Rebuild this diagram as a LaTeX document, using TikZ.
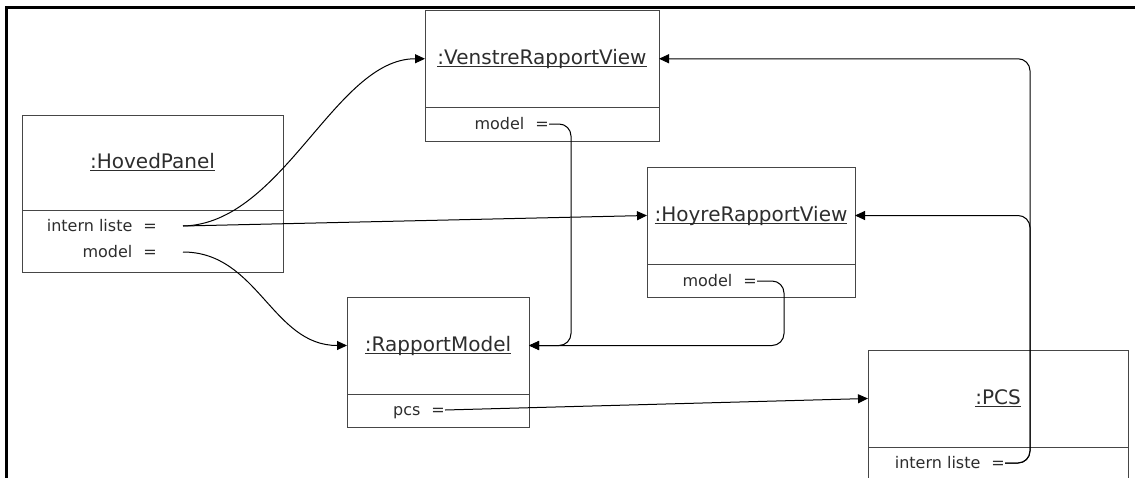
\documentclass[tikz,border=0pt]{standalone}
\usepackage{fontspec}
\setmainfont{DejaVu Sans}
\usepackage{tikz}
\usetikzlibrary{arrows.meta,positioning}
\definecolor{boxGray}{RGB}{70,70,70}
\definecolor{txtGray}{RGB}{45,45,45}
\newcommand{\objtitle}[1]{\setbox0=\hbox{#1}\rlap{\rule[-2.5pt]{\wd0}{0.7pt}}\box0}

\begin{document}
\begin{tikzpicture}[x=1pt, y=-1pt,
    objtop/.style={draw=boxGray, line width=0.9pt, outer sep=0pt, inner sep=0pt,
      text height=15pt, text depth=4pt, text=txtGray, font=\fontsize{20}{24}\selectfont},
    objattr/.style={draw=boxGray, line width=0.9pt, outer sep=0pt, inner sep=0pt},
    attr/.style={anchor=base east, inner sep=0pt, text=txtGray, font=\fontsize{16}{19}\selectfont},
    link/.style={line width=1pt, rounded corners=12pt, -{Triangle[length=10pt,width=9pt]}}]
  \useasboundingbox (0,0) rectangle (1135,477);
  \draw[line width=3pt] (6,480) -- (6,7.5) -- (1140,7.5);

  % objects
  \node[objtop, minimum width=261pt, minimum height=95pt] (hoved) at (152.5,162.5) {\objtitle{:HovedPanel}};
  \node[objattr, minimum width=261pt, minimum height=62pt, below=0pt of hoved] (hovedattr) {};
  \node[objtop, minimum width=234pt, minimum height=96.5pt] (venstre) at (542,58.75) {\objtitle{:VenstreRapportView}};
  \node[objattr, minimum width=234pt, minimum height=34pt, below=0pt of venstre] (venstreattr) {};
  \node[objtop, minimum width=208pt, minimum height=97pt] (hoyre) at (751,215.5) {\objtitle{:HoyreRapportView}};
  \node[objattr, minimum width=208pt, minimum height=33pt, below=0pt of hoyre] (hoyreattr) {};
  \node[objtop, minimum width=182pt, minimum height=97pt] (rapport) at (438,345.5) {\objtitle{:RapportModel}};
  \node[objattr, minimum width=182pt, minimum height=33pt, below=0pt of rapport] (rapportattr) {};
  \node[objtop, minimum width=260pt, minimum height=97pt] (pcs) at (998,398.5) {\objtitle{:PCS}};
  \node[objattr, minimum width=260pt, minimum height=40pt, below=0pt of pcs] (pcsattr) {};

  % attributes
  \node[attr] (hovedlisteL) at (157,231) {intern liste\hspace{11pt}=};
  \node[attr] (hovedmodelL) at (157,257) {model\hspace{11pt}=};
  \node[attr] (venstremodelL) at (549,129) {model\hspace{11pt}=};
  \node[attr] (hoyremodelL) at (757,286) {model\hspace{11pt}=};
  \node[attr] (rapportpcsL) at (445,415) {pcs\hspace{11pt}=};
  \node[attr] (pcslisteL) at (1005,468) {intern liste\hspace{11pt}=};
  \coordinate (hovedliste) at (183,226);
  \coordinate (hovedmodel) at (183,252);
  \coordinate (venstremodel) at (549,124);
  \coordinate (hoyremodel) at (757,281);
  \coordinate (rapportpcs) at (445,410);
  \coordinate (pcsliste) at (1005,463);

  % references
  \draw[link] (hovedliste) .. controls +(100,-2) and +(-90,0) .. (venstre.west);
  \draw[link] (hovedliste) -- (hoyre.west);
  \draw[link] (hovedmodel) .. controls +(75,0) and +(-75,0) .. (rapport.west);
  \draw[link] (venstremodel) -- ++(22,0) |- (rapport.east);
  \draw[link] (hoyremodel) -- ++(27,0) |- (rapport.east);
  \draw[link] (rapportpcs) -- (pcs.west);
  \draw[link] (pcsliste) -- ++(25,0) |- (venstre.east);
  \draw[link] (pcsliste) -- ++(25,0) |- (hoyre.east);
\end{tikzpicture}
\end{document}
